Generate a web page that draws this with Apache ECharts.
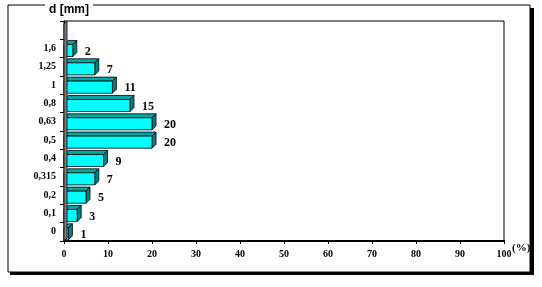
<!DOCTYPE html>
<html><head><meta charset="utf-8">
<script src="https://cdn.jsdelivr.net/npm/echarts@6/dist/echarts.min.js"></script>
<style>html,body{margin:0;padding:0;background:#fff}#c{width:542px;height:287px}</style>
</head><body><div id="c"></div>
<script>
const categories = ["0","0,1","0,2","0,315","0,4","0,5","0,63","0,8","1","1,25","1,6",""];
const values = [1,3,5,7,9,20,20,15,11,7,2,null];
const xTicks = [0,10,20,30,40,50,60,70,80,90,100];
const xUnit = "(%)";

const chart = echarts.init(document.getElementById('c'), null, {renderer:'canvas'});
const depth = 4;
const seriesData = values.map((v,i)=>[v,i]).filter(d=>d[0]!==null);

function renderItem(params, api){
  const v = api.value(0), idx = api.value(1);
  const s = api.coord([0, idx]);
  const e = api.coord([v, idx]);
  const bh = api.size([0,1])[1];
  const h = bh*0.66;
  const x0 = s[0], x1 = e[0];
  const y0 = e[1]-h/2+2;
  const d = depth;
  return {type:'group', children:[
    {type:'polygon', shape:{points:[[x0,y0],[x0+d,y0-d],[x1+d,y0-d],[x1,y0]]},
     style:{fill:'#00a8a8', stroke:'#000', lineWidth:0.8}},
    {type:'polygon', shape:{points:[[x1,y0],[x1+d,y0-d],[x1+d,y0+h-d],[x1,y0+h]]},
     style:{fill:'#008080', stroke:'#000', lineWidth:0.8}},
    {type:'rect', shape:{x:x0, y:y0, width:x1-x0, height:h},
     style:{fill:'#00ffff', stroke:'#000', lineWidth:0.8}},
    {type:'text', style:{text:String(v), x:x1+d+8, y:y0+h/2+1, align:'left', verticalAlign:'middle',
      font:'bold 12px "Liberation Serif"', fill:'#000'}}
  ]};
}

chart.setOption({
  animation:false,
  title:{text:'d [mm]', left:45, top:2, padding:[2,4], z:10,
    backgroundColor:'#fff', textStyle:{fontFamily:'Liberation Sans', fontWeight:'bold', fontSize:12, color:'#000'}},
  grid:{left:64, right:38, top:21, bottom:46, show:true, borderColor:'#000', borderWidth:1, z:3},
  xAxis:{type:'value', min:xTicks[0], max:xTicks[xTicks.length-1], interval:10, z:4,
    axisLine:{show:true, lineStyle:{color:'#000', width:2}},
    axisTick:{show:true, length:3, lineStyle:{color:'#000'}},
    splitLine:{show:false},
    axisLabel:{fontFamily:'Liberation Serif', fontWeight:'bold', fontSize:10, color:'#000', margin:8}},
  yAxis:{type:'category', data:categories, z:4,
    axisLine:{show:true, lineStyle:{color:'#000'}},
    axisTick:{show:true, length:4, inside:false, lineStyle:{color:'#000'}},
    splitLine:{show:false},
    axisLabel:{fontFamily:'Liberation Serif', fontWeight:'bold', fontSize:10, color:'#000', margin:8}},
  series:[{type:'custom', renderItem, data:seriesData, encode:{x:0,y:1}, z:5}]
});

function drawDecor(){
  const r = chart.getModel().getComponent('grid').coordinateSystem.getRect();
  const yTop = r.y, yBot = r.y+r.height, xL = r.x;
  const end = chart.convertToPixel({gridIndex:0}, [xTicks[xTicks.length-1], 0]);
  chart.setOption({graphic:[
    {type:'rect', z:0, silent:true, shape:{x:10, y:8, width:524, height:267}, style:{fill:'#000'}},
    {type:'rect', z:0, silent:true, shape:{x:8, y:5, width:522, height:267}, style:{fill:'#fff', stroke:'#000', lineWidth:1}},
    {type:'polygon', z:10, silent:true, shape:{points:[[xL,yTop+3],[xL+3,yTop],[xL+3,yBot-3],[xL,yBot]]},
      style:{fill:'#808080', stroke:'#000', lineWidth:0.8}},
    {type:'text', z:20, silent:true, style:{text:xUnit, x:end[0]+8, y:yBot+2, align:'left', verticalAlign:'top',
      font:'bold 11px "Liberation Serif"', fill:'#000'}}
  ]});
}
drawDecor();
</script></body></html>
